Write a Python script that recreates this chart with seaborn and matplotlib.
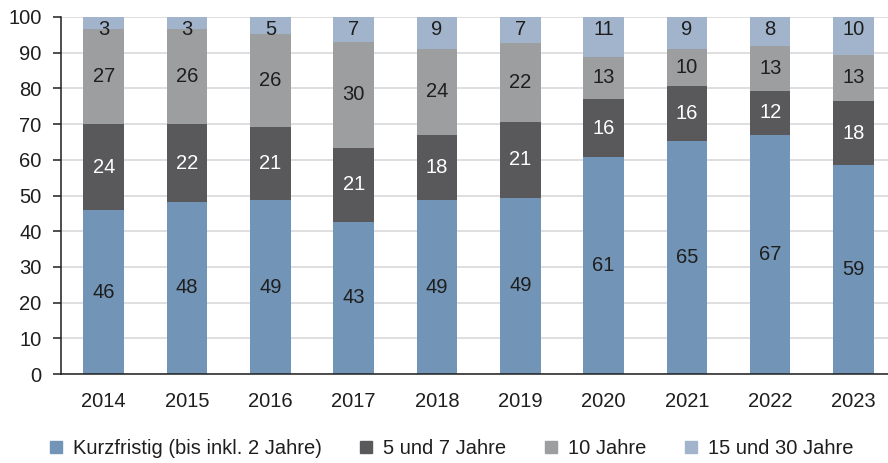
import numpy as np
import pandas as pd
import matplotlib
matplotlib.use("Agg")
import matplotlib.pyplot as plt
from matplotlib.lines import Line2D
import seaborn as sns

# ---------------------------------------------------------------------------
# data (segment heights, labels as printed)
# ---------------------------------------------------------------------------
years = ["2014", "2015", "2016", "2017", "2018", "2019", "2020", "2021", "2022", "2023"]

kurz = [45.8, 48.2, 48.6, 42.7, 48.6, 49.4, 60.7, 65.4, 67.0, 58.5]
mittel = [24.2, 21.8, 20.7, 20.7, 18.4, 21.3, 16.4, 15.3, 12.3, 18.0]
zehn = [26.6, 26.6, 26.0, 29.6, 24.1, 21.9, 11.7, 10.4, 12.6, 12.9]
lang = [3.4, 3.4, 4.7, 7.0, 8.9, 7.4, 11.2, 8.9, 8.1, 10.6]

kurz_lbl = [46, 48, 49, 43, 49, 49, 61, 65, 67, 59]
mittel_lbl = [24, 22, 21, 21, 18, 21, 16, 16, 12, 18]
zehn_lbl = [27, 26, 26, 30, 24, 22, 13, 10, 13, 13]
lang_lbl = [3, 3, 5, 7, 9, 7, 11, 9, 8, 10]

series = ["Kurzfristig (bis inkl. 2 Jahre)", "5 und 7 Jahre", "10 Jahre", "15 und 30 Jahre"]
colors = ["#7295b7", "#59595b", "#9d9ea0", "#a1b4cc"]
label_colors = ["#1e1e1e", "#ffffff", "#1e1e1e", "#1e1e1e"]

df = pd.DataFrame({"Jahr": years, series[0]: kurz, series[1]: mittel,
                   series[2]: zehn, series[3]: lang})
values = df[series]
cum = values.cumsum(axis=1)
bottoms = cum - values
labels = [kurz_lbl, mittel_lbl, zehn_lbl, lang_lbl]

# ---------------------------------------------------------------------------
# figure
# ---------------------------------------------------------------------------
sns.set_style("white")
plt.rcParams["font.family"] = ["Liberation Sans", "DejaVu Sans"]
fs = 14.5

fig = plt.figure(figsize=(8.88, 4.63), dpi=100)
ax = fig.add_axes([61 / 888, 1 - 374 / 463, 1 - 61 / 888, (374 - 17) / 463])

# draw cumulative layers from the top down so they stack
for i in reversed(range(len(series))):
    sns.barplot(x=df["Jahr"], y=cum[series[i]], color=colors[i], width=0.486,
                saturation=1, linewidth=0, edgecolor="none", ax=ax, zorder=2)

# value labels
for i, name in enumerate(series):
    for j in range(len(years)):
        if i == 3:
            ypos = 96.4
        else:
            ypos = bottoms[name].iloc[j] + values[name].iloc[j] / 2
        ax.text(j, ypos, str(labels[i][j]), ha="center", va="center",
                fontsize=fs, color=label_colors[i], zorder=4)

ax.set_xlim(-0.513, 9.414)
ax.set_ylim(0, 100)
ax.set_yticks(np.arange(0, 101, 10))
ax.set_xlabel("")
ax.set_ylabel("")
ax.yaxis.grid(True, color="#d9d9d9", linewidth=1.2, zorder=0)
ax.set_axisbelow(True)

for side in ["top", "right"]:
    ax.spines[side].set_visible(False)
ax.spines["left"].set_color("#1e1e1e")
ax.spines["bottom"].set_color("#1e1e1e")
ax.spines["left"].set_linewidth(1.1)
ax.spines["bottom"].set_linewidth(1.1)

ax.tick_params(axis="y", length=6, width=1.1, color="#1e1e1e", pad=8,
               labelsize=fs, labelcolor="#1e1e1e", left=True)
ax.tick_params(axis="x", length=0, pad=13, labelsize=fs, labelcolor="#1e1e1e")

# legend
handles = [Line2D([], [], marker="s", linestyle="", markersize=8,
                  markerfacecolor=c, markeredgecolor=c) for c in colors]
fig.legend(handles, series, loc="center", bbox_to_anchor=(0.508, 14 / 463),
           ncol=4, frameon=False, fontsize=fs, handlelength=0.7,
           handletextpad=0.5, columnspacing=1.85, labelcolor="#1e1e1e")

fig.savefig("out.png", dpi=100, facecolor="white")
